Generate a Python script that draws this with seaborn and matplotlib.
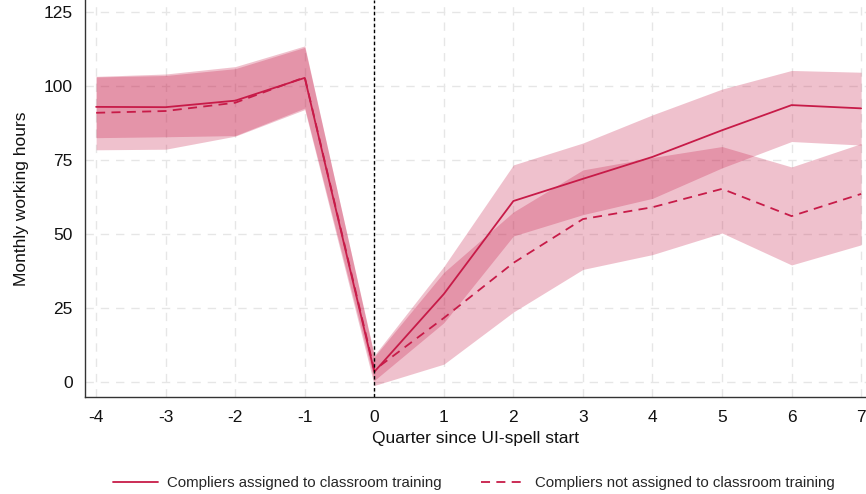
import numpy as np
import pandas as pd
import matplotlib
matplotlib.use("Agg")
import matplotlib.pyplot as plt
from matplotlib.lines import Line2D
import seaborn as sns

quarters = [-4, -3, -2, -1, 0, 1, 2, 3, 4, 5, 6, 7]
assigned = [92.9, 92.8, 95.0, 102.7, 3.4, 29.7, 61.1, 68.6, 76.0, 85.0, 93.5, 92.4]
assigned_lo = [82.5, 82.8, 83.2, 92.5, 0.5, 20.0, 49.3, 56.5, 62.0, 72.3, 81.2, 80.0]
assigned_hi = [103.0, 103.5, 105.8, 113.0, 9.0, 39.0, 73.3, 80.7, 90.2, 98.9, 105.2, 104.6]
not_assigned = [90.9, 91.5, 94.3, 102.9, 4.0, 21.6, 40.2, 55.0, 59.0, 65.2, 56.0, 63.5]
not_assigned_lo = [78.4, 78.6, 83.0, 92.0, -1.2, 6.0, 23.6, 38.0, 43.0, 50.3, 39.5, 46.3]
not_assigned_hi = [103.2, 104.0, 106.5, 113.5, 8.5, 37.0, 57.4, 71.6, 75.8, 79.5, 72.6, 80.5]
labels = ["Compliers assigned to classroom training",
          "Compliers not assigned to classroom training"]
y_ticks = [0, 25, 50, 75, 100, 125]

sns.set_style("white")
plt.rcParams['font.family'] = ['Liberation Sans', 'DejaVu Sans']

color = "#C71B48"

df = pd.DataFrame({
    "quarter": quarters * 2,
    "hours": assigned + not_assigned,
    "group": [labels[0]] * len(quarters) + [labels[1]] * len(quarters),
})

fig = plt.figure(figsize=(8.66, 4.94), dpi=100)
ax = fig.add_axes([85 / 866, 1 - 397 / 494, 1 - 85 / 866, 397 / 494])

ax.fill_between(quarters, assigned_lo, assigned_hi, color=color, alpha=0.27, lw=0, zorder=1)
ax.fill_between(quarters, not_assigned_lo, not_assigned_hi, color=color, alpha=0.27, lw=0, zorder=1)

sns.lineplot(data=df, x="quarter", y="hours", style="group",
             style_order=labels, dashes={labels[0]: "", labels[1]: (5, 3.5)},
             color=color, lw=1.3, legend=False, ax=ax, zorder=3)

ax.axvline(0, color="black", lw=1.0, linestyle=(0, (2.5, 1.8)), zorder=4)

ax.set_xlim(-4.16, 7.07)
ax.set_ylim(-5.1, 129)
ax.set_xticks(quarters)
ax.set_yticks(y_ticks)
ax.set_xticklabels([str(q) for q in quarters])
ax.grid(True, color="#E6E6E6", lw=1.0, linestyle=(0, (6, 5)), zorder=0)
ax.set_axisbelow(True)

for s in ["top", "right"]:
    ax.spines[s].set_visible(False)
for s in ["left", "bottom"]:
    ax.spines[s].set_color("#333333")
    ax.spines[s].set_linewidth(1.0)

ax.tick_params(axis="both", which="major", direction="out", length=5, width=1,
               color="#333333", labelsize=12.5, labelcolor="#111111", pad=4)
ax.set_xlabel("Quarter since UI-spell start", fontsize=12.5, color="#111111", labelpad=5)
ax.set_ylabel("Monthly working hours", fontsize=12.5, color="#111111", labelpad=10)

handles = [Line2D([0], [0], color=color, lw=1.3),
           Line2D([0], [0], color=color, lw=1.3, linestyle=(0, (5, 3.5)))]
fig.legend(handles, labels, loc="center", bbox_to_anchor=(474 / 866, 1 - 483 / 494),
           ncol=2, frameon=False, fontsize=10.8, handlelength=3.0, columnspacing=2.6,
           handletextpad=0.6)

fig.savefig("out.png", dpi=100)
